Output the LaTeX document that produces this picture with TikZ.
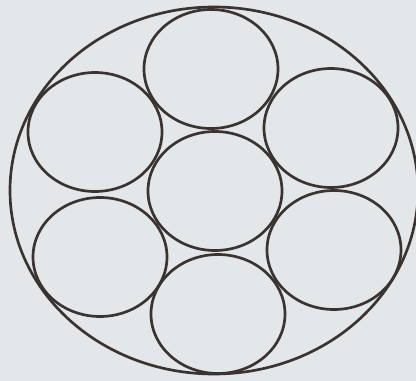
\documentclass[tikz,border=0pt]{standalone}
\usepackage{tikz}
\usetikzlibrary{positioning}
\usepackage{xcolor}
\definecolor{paper}{HTML}{E3E7EA}
\definecolor{ink}{HTML}{3A3330}

\begin{document}
\begin{tikzpicture}[x=0.025cm,y=-0.025cm]
\fill[paper] (0,0) rectangle (416,381);
\useasboundingbox (0,0) rectangle (416,381);
% outer ring
\draw[ink,line width=1.9pt] (214,190.5) ellipse [x radius=204,y radius=183.5];
% seven wires
\foreach \x/\y in {215/191,211/69,218/314,95/132,331/128,100/257,334/250}{
 \draw[ink,line width=1.9pt] (\x,\y) ellipse [x radius=67,y radius=59.5];}
\end{tikzpicture}
\end{document}
